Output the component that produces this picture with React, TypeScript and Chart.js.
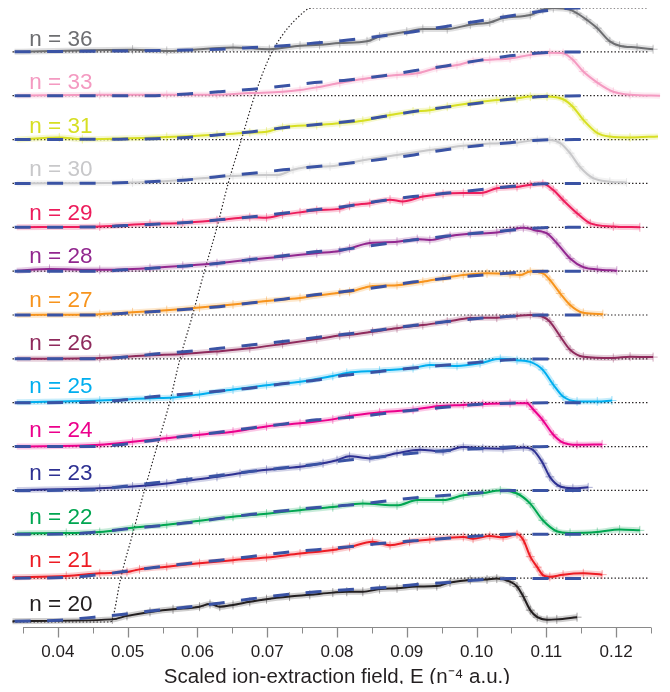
import React, { useEffect, useRef } from "react";
import { Chart, registerables } from "chart.js";

Chart.register(...registerables);

const FONT = '"Liberation Sans", Arial, Helvetica, sans-serif';

// principal quantum numbers, bottom to top
const NS = [20, 21, 22, 23, 24, 25, 26, 27, 28, 29, 30, 31, 33, 36];
const COLORS = [
  "#231f20", "#ed1c24", "#00a651", "#2e3192", "#ec008c", "#00aeef", "#8f2a5c",
  "#f7941d", "#92278f", "#ed1c5b", "#c8c8ca", "#d7df23", "#f49ac1", "#6d6e71",
];
const FIT_COLOR = "#3a53a4";
const AXIS_TITLE = "Scaled ion-extraction field, E (n\u207B\u2074 a.u.)";
const X_MIN = 0.035;
const X_MAX = 0.125;
const X_STEP = 0.005;
const Y_MIN = -0.107;
const Y_MAX = 14.0;
const LABEL_X = 0.0359;

// measured signal per n: [E, normalised signal 0..1]
const sig20: [number, number][] = [[0.0335,0.02],[0.0478,0.06],[0.0499,0.14],[0.0532,0.23],[0.0565,0.29],[0.0603,0.35],[0.0618,0.41],[0.0632,0.35],[0.0651,0.39],[0.0675,0.46],[0.0699,0.52],[0.0732,0.58],[0.0761,0.62],[0.0794,0.67],[0.0814,0.69],[0.0837,0.69],[0.0861,0.75],[0.0886,0.77],[0.0915,0.81],[0.0943,0.82],[0.0962,0.90],[0.0991,0.96],[0.1015,0.97],[0.1029,0.99],[0.1048,0.92],[0.1058,0.81],[0.1067,0.58],[0.1077,0.27],[0.1087,0.11],[0.1101,0.05],[0.1115,0.06],[0.1144,0.11]];
const sig21: [number, number][] = [[0.0335,0.02],[0.0412,0.05],[0.0460,0.11],[0.0499,0.14],[0.0517,0.20],[0.0556,0.26],[0.0603,0.34],[0.0651,0.41],[0.0699,0.47],[0.0747,0.56],[0.0794,0.64],[0.0818,0.71],[0.0851,0.83],[0.0876,0.75],[0.0904,0.83],[0.0933,0.88],[0.0981,0.94],[0.0995,0.90],[0.1019,0.96],[0.1038,0.93],[0.1058,1.0],[0.1067,0.87],[0.1077,0.49],[0.1087,0.25],[0.1095,0.07],[0.1105,0.03],[0.1124,0.08],[0.1153,0.11],[0.1180,0.08]];
const sig22: [number, number][] = [[0.0341,0.02],[0.0412,0.03],[0.0460,0.05],[0.0507,0.15],[0.0556,0.22],[0.0603,0.31],[0.0651,0.40],[0.0699,0.47],[0.0747,0.55],[0.0794,0.62],[0.0837,0.70],[0.0886,0.66],[0.0915,0.78],[0.0952,0.78],[0.0981,0.89],[0.1009,0.94],[0.1034,1.0],[0.1058,0.93],[0.1077,0.70],[0.1095,0.32],[0.1115,0.07],[0.1134,0.03],[0.1173,0.05],[0.1205,0.11],[0.1234,0.09]];
const sig23: [number, number][] = [[0.0341,0.01],[0.0460,0.05],[0.0507,0.09],[0.0556,0.16],[0.0585,0.22],[0.0628,0.31],[0.0661,0.39],[0.0699,0.47],[0.0747,0.54],[0.0780,0.62],[0.0800,0.69],[0.0818,0.78],[0.0847,0.73],[0.0886,0.85],[0.0919,0.93],[0.0952,0.89],[0.0981,0.99],[0.1009,0.96],[0.1038,0.95],[0.1067,0.98],[0.1081,0.92],[0.1095,0.62],[0.1105,0.31],[0.1120,0.09],[0.1138,0.05],[0.1160,0.07]];
const sig24: [number, number][] = [[0.0341,0],[0.0460,0.04],[0.0507,0.11],[0.0556,0.19],[0.0603,0.27],[0.0651,0.34],[0.0699,0.46],[0.0747,0.53],[0.0794,0.62],[0.0818,0.70],[0.0861,0.78],[0.0909,0.84],[0.0943,0.92],[0.0981,0.95],[0.1009,0.97],[0.1048,0.99],[0.1072,0.99],[0.1081,0.85],[0.1095,0.60],[0.1110,0.27],[0.1124,0.09],[0.1144,0.04],[0.1180,0.05]];
const sig25: [number, number][] = [[0.0341,0.01],[0.0460,0.05],[0.0532,0.10],[0.0565,0.12],[0.0603,0.19],[0.0651,0.30],[0.0699,0.40],[0.0747,0.48],[0.0794,0.61],[0.0814,0.68],[0.0861,0.73],[0.0909,0.79],[0.0933,0.86],[0.0972,0.84],[0.1005,0.90],[0.1034,1.0],[0.1058,0.97],[0.1077,0.93],[0.1095,0.75],[0.1110,0.41],[0.1124,0.14],[0.1144,0.03],[0.1173,0.03],[0.1194,0.05]];
const sig26: [number, number][] = [[0.0341,0],[0.0460,0.02],[0.0532,0.08],[0.0579,0.11],[0.0628,0.17],[0.0675,0.24],[0.0722,0.34],[0.0771,0.45],[0.0804,0.53],[0.0818,0.55],[0.0851,0.62],[0.0886,0.70],[0.0923,0.77],[0.0958,0.85],[0.0991,0.93],[0.1029,0.94],[0.1058,0.98],[0.1077,1.0],[0.1095,0.96],[0.1105,0.85],[0.1120,0.51],[0.1134,0.21],[0.1153,0.05],[0.1196,0.02],[0.1220,0.05],[0.1253,0.04]];
const sig27: [number, number][] = [[0.0341,0],[0.0460,0.02],[0.0507,0.06],[0.0556,0.11],[0.0603,0.17],[0.0651,0.24],[0.0699,0.32],[0.0747,0.39],[0.0804,0.51],[0.0818,0.53],[0.0847,0.65],[0.0886,0.68],[0.0923,0.76],[0.0952,0.84],[0.0981,0.91],[0.1015,0.95],[0.1048,0.93],[0.1062,0.91],[0.1077,0.99],[0.1095,0.95],[0.1105,0.80],[0.1120,0.49],[0.1134,0.23],[0.1153,0.05],[0.1181,0.02]];
const sig28: [number, number][] = [[0.0341,0.01],[0.0388,0.05],[0.0460,0.03],[0.0532,0.07],[0.0579,0.12],[0.0628,0.18],[0.0675,0.26],[0.0722,0.33],[0.0771,0.41],[0.0804,0.46],[0.0818,0.52],[0.0847,0.64],[0.0886,0.67],[0.0915,0.73],[0.0933,0.71],[0.0962,0.80],[0.0991,0.85],[0.1029,0.88],[0.1048,0.94],[0.1067,0.99],[0.1087,0.92],[0.1101,0.86],[0.1115,0.64],[0.1134,0.29],[0.1153,0.09],[0.1173,0.04],[0.1201,0.01]];
const sig29: [number, number][] = [[0.0341,0],[0.0460,0.02],[0.0532,0.08],[0.0579,0.10],[0.0628,0.16],[0.0675,0.23],[0.0699,0.22],[0.0722,0.29],[0.0747,0.34],[0.0771,0.39],[0.0804,0.42],[0.0818,0.49],[0.0847,0.55],[0.0876,0.63],[0.0894,0.59],[0.0923,0.70],[0.0952,0.76],[0.0981,0.78],[0.1009,0.79],[0.1029,0.89],[0.1058,0.92],[0.1077,0.97],[0.1095,0.99],[0.1110,0.85],[0.1124,0.62],[0.1144,0.32],[0.1163,0.09],[0.1196,0.02],[0.1234,0.0]];
const sig30: [number, number][] = [[0.0341,0],[0.0507,0.02],[0.0579,0.08],[0.0651,0.17],[0.0699,0.19],[0.0714,0.19],[0.0737,0.31],[0.0761,0.38],[0.0790,0.39],[0.0837,0.53],[0.0886,0.65],[0.0933,0.76],[0.0981,0.86],[0.1019,0.91],[0.1058,0.93],[0.1087,0.99],[0.1105,0.99],[0.1120,0.92],[0.1134,0.69],[0.1148,0.38],[0.1167,0.12],[0.1191,0.04],[0.1215,0.02]];
const sig31: [number, number][] = [[0.0341,0],[0.0402,0.05],[0.0435,0.01],[0.0556,0.06],[0.0628,0.11],[0.0675,0.16],[0.0699,0.18],[0.0722,0.28],[0.0771,0.33],[0.0804,0.37],[0.0837,0.43],[0.0876,0.56],[0.0909,0.64],[0.0933,0.67],[0.0958,0.75],[0.0991,0.83],[0.1029,0.90],[0.1058,0.94],[0.1077,0.98],[0.1101,0.98],[0.1124,0.92],[0.1138,0.75],[0.1153,0.45],[0.1173,0.15],[0.1191,0.07],[0.1220,0.05],[0.1260,0.07]];
const sig33: [number, number][] = [[0.0341,0],[0.0460,0.02],[0.0556,0.02],[0.0628,0.02],[0.0675,0.06],[0.0722,0.09],[0.0747,0.13],[0.0771,0.19],[0.0804,0.29],[0.0837,0.38],[0.0886,0.47],[0.0915,0.51],[0.0943,0.63],[0.0972,0.70],[0.0995,0.79],[0.1019,0.82],[0.1048,0.85],[0.1077,0.93],[0.1105,0.98],[0.1124,0.97],[0.1138,0.82],[0.1153,0.55],[0.1173,0.30],[0.1196,0.09],[0.1220,0.02],[0.1263,0.0]];
const sig36: [number, number][] = [[0.0338,0],[0.0507,0.05],[0.0556,0.02],[0.0651,0.10],[0.0703,0.06],[0.0747,0.14],[0.0775,0.16],[0.0804,0.20],[0.0843,0.24],[0.0861,0.35],[0.0900,0.46],[0.0923,0.52],[0.0958,0.52],[0.0991,0.62],[0.1019,0.67],[0.1038,0.77],[0.1077,0.84],[0.1095,0.96],[0.1110,1.0],[0.1134,0.96],[0.1144,0.88],[0.1158,0.73],[0.1173,0.54],[0.1191,0.24],[0.1205,0.14],[0.1230,0.10],[0.1253,0.06]];

// model fits per n: [E, normalised signal]
const fit20: [number, number][] = [[0.0338,0.02],[0.0402,0.04],[0.0445,0.10],[0.0491,0.17],[0.0539,0.26],[0.0586,0.34],[0.0631,0.43],[0.0678,0.53],[0.0725,0.62],[0.0771,0.69],[0.0818,0.74],[0.0864,0.78],[0.0910,0.85],[0.0958,0.90],[0.1002,0.96],[0.1048,0.99],[0.1153,0.99]];
const fit21: [number, number][] = [[0.0338,0],[0.0417,0.02],[0.0460,0.08],[0.0503,0.17],[0.0546,0.26],[0.0589,0.34],[0.0632,0.41],[0.0675,0.49],[0.0722,0.58],[0.0771,0.65],[0.0814,0.71],[0.0861,0.79],[0.0909,0.85],[0.0958,0.91],[0.1001,0.96],[0.1048,1.0],[0.1153,1.0]];
const fit22: [number, number][] = [[0.0338,0],[0.0417,0.01],[0.0460,0.06],[0.0503,0.13],[0.0579,0.25],[0.0675,0.45],[0.0771,0.61],[0.0814,0.66],[0.0861,0.74],[0.0909,0.83],[0.0958,0.89],[0.1001,0.94],[0.1048,1.0],[0.1153,1.0]];
const fit23: [number, number][] = [[0.0338,0],[0.0445,0.01],[0.0493,0.09],[0.0536,0.17],[0.0585,0.25],[0.0675,0.43],[0.0771,0.60],[0.0814,0.69],[0.0861,0.76],[0.0909,0.85],[0.0958,0.91],[0.1001,0.95],[0.1048,0.99],[0.1105,1.0]];
const fit24: [number, number][] = [[0.0338,0],[0.0453,0],[0.0493,0.05],[0.0536,0.14],[0.0585,0.24],[0.0628,0.32],[0.0675,0.42],[0.0722,0.51],[0.0771,0.61],[0.0814,0.66],[0.0861,0.74],[0.0909,0.83],[0.0958,0.90],[0.1001,0.96],[0.1048,0.99],[0.1153,1.0]];
const fit25: [number, number][] = [[0.0338,0],[0.0445,0.01],[0.0493,0.06],[0.0539,0.14],[0.0585,0.20],[0.0628,0.26],[0.0675,0.33],[0.0722,0.43],[0.0771,0.52],[0.0814,0.63],[0.0861,0.71],[0.0909,0.79],[0.0958,0.86],[0.1001,0.92],[0.1048,0.98],[0.1105,1.0]];
const fit26: [number, number][] = [[0.0338,0],[0.0460,0],[0.0503,0.05],[0.0539,0.11],[0.0585,0.17],[0.0632,0.24],[0.0679,0.32],[0.0725,0.40],[0.0771,0.49],[0.0811,0.56],[0.0861,0.66],[0.0909,0.76],[0.0958,0.85],[0.1001,0.92],[0.1048,0.97],[0.1091,1.0],[0.1153,1.0]];
const fit27: [number, number][] = [[0.0338,0],[0.0445,0],[0.0496,0.04],[0.0539,0.08],[0.0585,0.13],[0.0631,0.19],[0.0679,0.28],[0.0723,0.36],[0.0768,0.46],[0.0808,0.53],[0.0861,0.64],[0.0909,0.75],[0.0958,0.84],[0.1001,0.90],[0.1048,0.96],[0.1095,1.0],[0.1153,1.0]];
const fit28: [number, number][] = [[0.0338,0],[0.0460,0],[0.0496,0.03],[0.0539,0.07],[0.0585,0.12],[0.0631,0.18],[0.0679,0.27],[0.0723,0.35],[0.0768,0.44],[0.0808,0.49],[0.0861,0.61],[0.0909,0.71],[0.0958,0.80],[0.1001,0.87],[0.1048,0.93],[0.1095,0.99],[0.1153,1.0]];
const fit29: [number, number][] = [[0.0338,0],[0.0460,0.01],[0.0496,0.04],[0.0539,0.07],[0.0585,0.11],[0.0631,0.17],[0.0679,0.24],[0.0723,0.32],[0.0768,0.40],[0.0808,0.47],[0.0861,0.60],[0.0909,0.70],[0.0958,0.78],[0.1001,0.85],[0.1048,0.93],[0.1095,0.99],[0.1153,1.0]];
const fit30: [number, number][] = [[0.0338,0],[0.0474,0.01],[0.0532,0.04],[0.0585,0.08],[0.0631,0.16],[0.0679,0.23],[0.0723,0.31],[0.0768,0.38],[0.0816,0.46],[0.0864,0.55],[0.0910,0.65],[0.0956,0.77],[0.1002,0.86],[0.1048,0.93],[0.1095,0.99],[0.1153,1.0]];
const fit31: [number, number][] = [[0.0338,0],[0.0489,0.01],[0.0539,0.02],[0.0585,0.05],[0.0631,0.11],[0.0679,0.18],[0.0723,0.27],[0.0768,0.34],[0.0816,0.41],[0.0864,0.52],[0.0910,0.64],[0.0956,0.74],[0.1002,0.83],[0.1048,0.92],[0.1095,0.98],[0.1153,1.0]];
const fit33: [number, number][] = [[0.0338,0],[0.0532,0],[0.0585,0.04],[0.0631,0.09],[0.0679,0.15],[0.0723,0.22],[0.0768,0.30],[0.0816,0.36],[0.0864,0.45],[0.0910,0.57],[0.0956,0.68],[0.1002,0.80],[0.1048,0.91],[0.1095,0.98],[0.1153,1.0]];
const fit36: [number, number][] = [[0.0338,0],[0.0489,0.02],[0.0585,0.04],[0.0631,0.06],[0.0679,0.10],[0.0723,0.14],[0.0768,0.20],[0.0816,0.27],[0.0864,0.36],[0.0910,0.46],[0.0956,0.58],[0.1002,0.70],[0.1048,0.82],[0.1095,0.93],[0.1141,1.0],[0.1153,1.0]];

// threshold line through the stack: [E, stack level]
const THRESHOLD: [number, number][] = [[0.0335,0],[0.0474,0],[0.0478,0.06],[0.0490,1],[0.0507,2],[0.0524,3],[0.0542,4],[0.0560,5],[0.0575,6],[0.0593,7],[0.0610,8],[0.0628,9],[0.0644,10],[0.0663,11],[0.0682,12],[0.0707,13],[0.0754,13.93],[0.0764,14],[0.1245,14]];
// extent of the dotted zero lines
const BASE_X = [0.0335, 0.1245];

const SIGNALS = [sig20, sig21, sig22, sig23, sig24, sig25, sig26, sig27, sig28, sig29, sig30, sig31, sig33, sig36];
const FITS = [fit20, fit21, fit22, fit23, fit24, fit25, fit26, fit27, fit28, fit29, fit30, fit31, fit33, fit36];

function rgba(hex: string, a: number) {
  const v = parseInt(hex.slice(1), 16);
  return `rgba(${(v >> 16) & 255},${(v >> 8) & 255},${v & 255},${a})`;
}

const isMajor = (v: number) => Math.round(v * 1000) % 10 === 0;

const labelPlugin = {
  id: "nLabels",
  afterDatasetsDraw(chart: any) {
    const { ctx, scales } = chart;
    const x = scales.x, y = scales.y;
    ctx.save();
    ctx.font = `22.5px ${FONT}`;
    ctx.textBaseline = "alphabetic";
    ctx.textAlign = "left";
    NS.forEach((n, i) => {
      ctx.fillStyle = COLORS[i];
      ctx.fillText(`n = ${n}`, x.getPixelForValue(LABEL_X), y.getPixelForValue(i) - (11.3 - 0.41 * i));
    });
    ctx.restore();
  },
};

const axisPlugin = {
  id: "axisLine",
  afterDraw(chart: any) {
    const { ctx, chartArea } = chart;
    const x = chart.scales.x;
    const yb = Math.round(chartArea.bottom) + 0.5;
    ctx.save();
    ctx.strokeStyle = "#8a8a8a";
    ctx.lineWidth = 1;
    ctx.beginPath();
    ctx.moveTo(x.getPixelForValue(X_MIN), yb);
    ctx.lineTo(x.getPixelForValue(X_MAX), yb);
    ctx.stroke();
    x.ticks.forEach((t: any) => {
      const px = Math.round(x.getPixelForValue(t.value)) + 0.5;
      ctx.lineWidth = isMajor(t.value) ? 1.3 : 1;
      ctx.beginPath();
      ctx.moveTo(px, yb);
      ctx.lineTo(px, yb + (isMajor(t.value) ? 10 : 6));
      ctx.stroke();
    });
    ctx.restore();
  },
};

export default function App() {
  const ref = useRef<HTMLCanvasElement | null>(null);

  useEffect(() => {
    if (!ref.current) return;
    Chart.defaults.font.family = FONT;
    const dotted = { borderColor: "#231f20", borderWidth: 1.2, borderDash: [1.4, 2.1], pointRadius: 0, showLine: true, clip: false as const };
    const datasets: any[] = [];
    for (let i = 1; i < NS.length; i++) {
      datasets.push({ ...dotted, data: BASE_X.map((x) => ({ x, y: i })), order: 5 });
    }
    datasets.push({ ...dotted, data: THRESHOLD.map(([x, y]) => ({ x, y })), cubicInterpolationMode: "monotone", order: 4 });
    SIGNALS.forEach((s, i) => {
      const data = s.map(([x, y]) => ({ x, y: y + i }));
      datasets.push({
        data, showLine: true, clip: false, order: 3,
        borderColor: rgba(COLORS[i], 0.22), borderWidth: 6,
        pointStyle: "cross", pointRadius: 4.5, pointBorderWidth: 1,
        pointBorderColor: rgba(COLORS[i], 0.4), pointBackgroundColor: "transparent",
        cubicInterpolationMode: "monotone",
      });
      datasets.push({
        data, showLine: true, clip: false, order: 2,
        borderColor: COLORS[i], borderWidth: 2, pointRadius: 0,
        cubicInterpolationMode: "monotone",
      });
    });
    FITS.forEach((f, i) => {
      datasets.push({
        data: f.map(([x, y]) => ({ x, y: y + i })), showLine: true, clip: false, order: 1,
        borderColor: FIT_COLOR, borderWidth: 3, borderDash: [16, 16.5], pointRadius: 0,
        cubicInterpolationMode: "monotone",
      });
    });

    const chart = new Chart(ref.current, {
      type: "scatter",
      data: { datasets },
      options: {
        animation: false,
        responsive: true,
        maintainAspectRatio: false,
        events: [],
        layout: { padding: { left: 23, right: 19, top: 8, bottom: 0 } },
        plugins: { legend: { display: false }, tooltip: { enabled: false } },
        scales: {
          x: {
            type: "linear", min: X_MIN, max: X_MAX,
            grid: { display: false, drawTicks: false },
            border: { display: false },
            afterFit: (scale: any) => { scale.height = 65.3; },
            ticks: {
              stepSize: X_STEP, autoSkip: false, maxRotation: 0, padding: 17.5,
              color: "#231f20", font: { size: 17, lineHeight: 1, family: FONT },
              callback: (v: any) => (isMajor(Number(v)) ? Number(v).toFixed(2) : ""),
            },
            title: {
              display: true, text: AXIS_TITLE, color: "#231f20",
              font: { size: 20.5, lineHeight: 1, family: FONT }, padding: { top: 0, bottom: 4.5 },
            },
          },
          y: { type: "linear", min: Y_MIN, max: Y_MAX, display: false },
        },
      },
      plugins: [labelPlugin, axisPlugin],
    });
    return () => chart.destroy();
  }, []);

  return (
    <div style={{ position: "relative", width: 670, height: 692, margin: -8 }}>
      <canvas ref={ref} />
    </div>
  );
}
